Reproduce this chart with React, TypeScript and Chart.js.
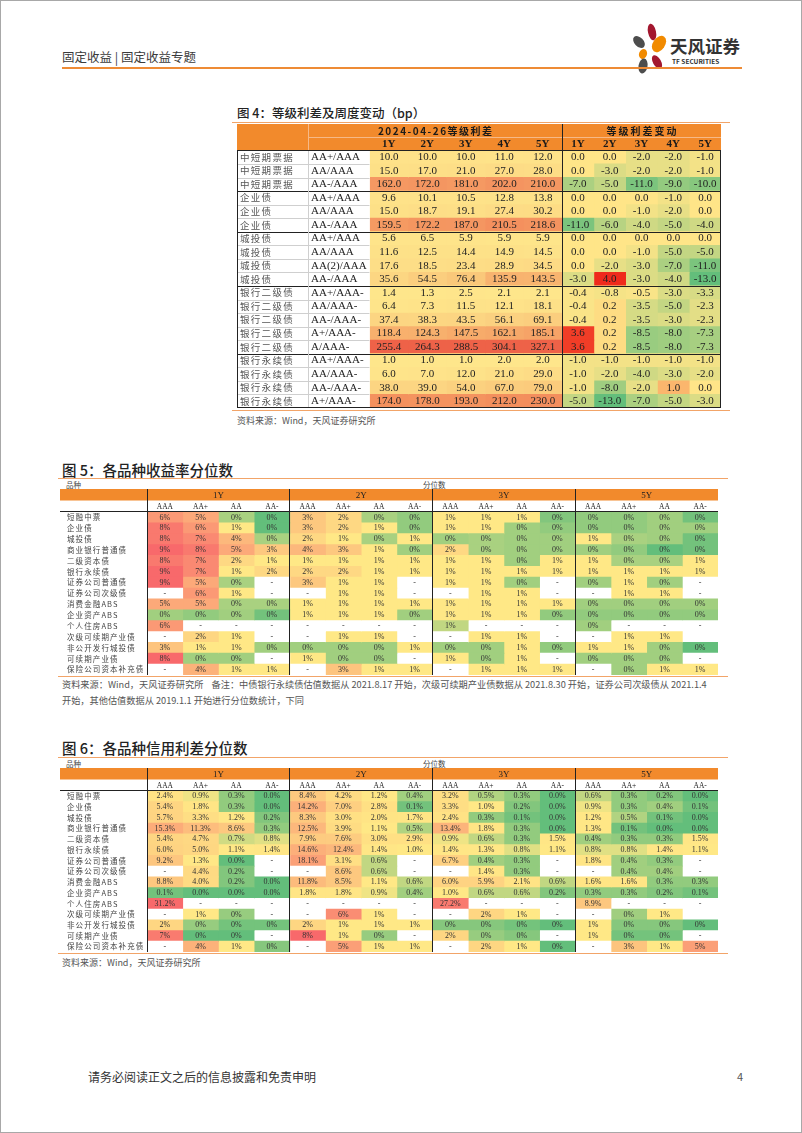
import React, { useEffect, useRef } from 'react';
import { Chart, registerables } from 'chart.js';

Chart.register(...registerables);

// ---------------- Figure 4 data ----------------
const F4_TYPES = ['中短期票据', '中短期票据', '中短期票据', '企业债', '企业债', '企业债', '城投债', '城投债', '城投债', '城投债', '银行二级债', '银行二级债', '银行二级债', '银行二级债', '银行二级债', '银行永续债', '银行永续债', '银行永续债', '银行永续债'];
const F4_RATINGS = ['AA+/AAA', 'AA/AAA', 'AA-/AAA', 'AA+/AAA', 'AA/AAA', 'AA-/AAA', 'AA+/AAA', 'AA/AAA', 'AA(2)/AAA', 'AA-/AAA', 'AA+/AAA-', 'AA/AAA-', 'AA-/AAA-', 'A+/AAA-', 'A/AAA-', 'AA+/AAA-', 'AA/AAA-', 'AA-/AAA-', 'A+/AAA-'];
const F4_TENORS = ['1Y', '2Y', '3Y', '4Y', '5Y'];
const F4_SPREAD_TITLE = '2024-04-26等级利差';
const F4_CHANGE_TITLE = '等级利差变动';
const F4_SPREAD = [
  [10.0, 10.0, 10.0, 11.0, 12.0],
  [15.0, 17.0, 21.0, 27.0, 28.0],
  [162.0, 172.0, 181.0, 202.0, 210.0],
  [9.6, 10.1, 10.5, 12.8, 13.8],
  [15.0, 18.7, 19.1, 27.4, 30.2],
  [159.5, 172.2, 187.0, 210.5, 218.6],
  [5.6, 6.5, 5.9, 5.9, 5.9],
  [11.6, 12.5, 14.4, 14.9, 14.5],
  [17.6, 18.5, 23.4, 28.9, 34.5],
  [35.6, 54.5, 76.4, 135.9, 143.5],
  [1.4, 1.3, 2.5, 2.1, 2.1],
  [6.4, 7.3, 11.5, 12.1, 18.1],
  [37.4, 38.3, 43.5, 56.1, 69.1],
  [118.4, 124.3, 147.5, 162.1, 185.1],
  [255.4, 264.3, 288.5, 304.1, 327.1],
  [1.0, 1.0, 1.0, 2.0, 2.0],
  [6.0, 7.0, 12.0, 21.0, 29.0],
  [38.0, 39.0, 54.0, 67.0, 79.0],
  [174.0, 178.0, 193.0, 212.0, 230.0],
];
const F4_CHANGE = [
  [0, 0, -2, -2, -1],
  [0, -3, -2, -2, -1],
  [-7, -5, -11, -9, -10],
  [0, 0, 0, -1, 0],
  [0, 0, -1, -2, 0],
  [-11, -6, -4, -5, -4],
  [0, 0, 0, 0, 0],
  [0, 0, -1, -5, -5],
  [0, -2, -3, -7, -11],
  [-3, 4, -3, -4, -13],
  [-0.4, -0.8, -0.5, -3.0, -3.3],
  [-0.4, 0.2, -3.5, -5.0, -2.3],
  [-0.4, 0.2, -3.5, -3.0, -2.3],
  [3.6, 0.2, -8.5, -8.0, -7.3],
  [3.6, 0.2, -8.5, -8.0, -7.3],
  [-1, -1, -1, -1, -1],
  [-1, -2, -4, -3, -2],
  [-1, -8, -2, 1, 0],
  [-5, -13, -7, -5, -3],
];

// ---------------- Figures 5 & 6 data ----------------
const PRODUCTS = ['短融中票', '企业债', '城投债', '商业银行普通债', '二级资本债', '银行永续债', '证券公司普通债', '证券公司次级债', '消费金融ABS', '企业资产ABS', '个人住房ABS', '次级可续期产业债', '非公开发行城投债', '可续期产业债', '保险公司资本补充债'];
const TENOR_GROUPS = ['1Y', '2Y', '3Y', '5Y'];
const GRADES = ['AAA', 'AA+', 'AA', 'AA-'];
const LOWER_BLOCK_START = 11; // rows from here use a separate colour block / integer format
const NA = null; // shown as "-"
const BL = undefined; // empty cell

// yield percentile (%), null = "-"
const F5_VALUES: (number | null | undefined)[][] = [
  [6, 5, 0.45, 0.0, 3, 2, 0.45, 0.3, 1, 1, 1, 0.2, 0.3, 0.3, 0.4, 0.1],
  [8, 6, 1, 0.0, 3, 2, 1, 0.3, 1, 1, 0.4, 0.3, 0.3, 0.3, 0.4, 0.4],
  [8, 7, 4, 0.45, 2, 1, 0.45, 1, 0.4, 0.45, 0.4, 0.4, 1, 0.45, 0.4, 0.1],
  [9, 8, 5, 3, 4, 3, 1, 0.4, 2, 0.45, 0.4, 0.4, 0.4, 0.3, 0.0, 0.1],
  [8, 7, 2, 1, 1, 1, 1, 1, 1, 1, 0.4, 1, 1, 0.45, 0.45, 1],
  [9, 7, 1, 2, 2, 2, 1, 1, 1, 1, 1, 1, 1, 1, 1, 1],
  [9, 5, 0.45, NA, 3, 1, 1, NA, 1, 1, 0.4, NA, 0.4, 1, 0.4, NA],
  [NA, 6, 1, NA, NA, 1, 1, NA, NA, 1, 1, NA, NA, 1, 1, NA],
  [5, 5, 0.45, 0.45, 1, 1, 1, 1, 1, 1, 1, 1, 0.4, 0.4, 0.4, 0.4],
  [0.4, 0.3, 0.4, 0.1, 1, 1, 1, 0.4, 1, 1, 1, 0.3, 0.3, 0.3, 0.3, 0.3],
  [6, NA, NA, NA, NA, NA, NA, NA, 0.6, NA, NA, NA, 0.4, NA, NA, NA],
  [NA, 2, 1, NA, NA, 1, 1, NA, NA, 1, 1, NA, NA, 1, 1, BL],
  [3, 1, 1, 0.4, 0.4, 0.4, 0.4, 1, 0.4, 0.4, 1, 0.3, 1, 1, 0.4, 0.0],
  [8, 0.4, 0.4, NA, 1, 0.4, 0.4, NA, 1, 0.4, 1, NA, 0.4, 0.4, 0.4, NA],
  [NA, 4, 1, 1, NA, 3, 1, 1, NA, 1, 1, 1, NA, 0.4, 1, 1],
];

// credit spread percentile (%), null = "-"
const F6_VALUES: (number | null | undefined)[][] = [
  [2.4, 0.9, 0.3, 0.0, 8.4, 4.2, 1.2, 0.4, 3.2, 0.5, 0.3, 0.0, 0.6, 0.3, 0.2, 0.0],
  [5.4, 1.8, 0.3, 0.0, 14.2, 7.0, 2.8, 0.1, 3.3, 1.0, 0.2, 0.0, 0.9, 0.3, 0.4, 0.1],
  [5.7, 3.3, 1.2, 0.2, 8.3, 3.0, 2.0, 1.7, 2.4, 0.3, 0.1, 0.0, 1.2, 0.5, 0.1, 0.0],
  [15.3, 11.3, 8.6, 0.3, 12.5, 3.9, 1.1, 0.5, 13.4, 1.8, 0.3, 0.0, 1.3, 0.1, 0.0, 0.0],
  [5.4, 4.7, 0.7, 0.8, 7.9, 7.6, 3.0, 2.9, 0.9, 0.6, 0.3, 1.5, 0.4, 0.3, 0.3, 1.5],
  [6.0, 5.0, 1.1, 1.4, 14.6, 12.4, 1.4, 1.0, 1.4, 1.3, 0.8, 1.1, 0.8, 0.8, 1.4, 1.1],
  [9.2, 1.3, 0.0, NA, 18.1, 3.1, 0.6, NA, 6.7, 0.4, 0.3, NA, 1.8, 0.4, 0.3, NA],
  [NA, 4.4, 0.2, NA, NA, 8.6, 0.6, NA, NA, 1.4, 0.3, NA, NA, 0.4, 0.4, NA],
  [8.8, 4.0, 0.2, 0.0, 11.8, 8.5, 1.1, 0.6, 6.0, 5.9, 2.1, 0.6, 1.6, 1.6, 0.3, 0.3],
  [0.1, 0.0, 0.0, 0.0, 1.8, 1.8, 0.9, 0.4, 1.0, 0.6, 0.6, 0.2, 0.3, 0.3, 0.2, 0.1],
  [31.2, NA, NA, NA, NA, NA, NA, NA, 27.2, NA, NA, NA, 8.9, NA, NA, NA],
  [NA, 1, 0.4, NA, NA, 6, 1, NA, NA, 2, 1, NA, NA, 0.45, 1, BL],
  [2, 0.4, 0.2, 0.2, 2, 1, 1, 1, 0.3, 0.3, 0.2, 0.1, 1, 0.3, 0.3, 0.1],
  [7, 0.1, 0.1, NA, 8, 1, 0.4, NA, 2, 0.4, 0.3, NA, 1, 0.2, 0.2, NA],
  [NA, 4, 1, 0.3, NA, 5, 1, 1, NA, 2, 1, 0.1, NA, 3, 1, 5],
];

// ---------------- helpers ----------------
const SANS = '"Noto Sans CJK SC", "Noto Sans", sans-serif';
const SERIF = '"Liberation Serif", "DejaVu Serif", serif';
const HEAD_ORANGE = '#F28A2C';
const RULE_ORANGE = '#F2A468';
const GREEN = '#63BE7B';
const YELLOW = '#FFE886';
const RED = '#F8696B';

function hexRgb(h: string) {
  return [1, 3, 5].map((i) => parseInt(h.slice(i, i + 2), 16));
}
function mix(a: string, b: string, t: number) {
  const A = hexRgb(a);
  const B = hexRgb(b);
  const k = Math.max(0, Math.min(1, isFinite(t) ? t : 1));
  return `rgb(${A.map((v, i) => Math.round(v + (B[i] - v) * k)).join(',')})`;
}
function scale3(v: number, lo: number, mid: number, hi: number, c0: string, c1: string, c2: string) {
  if (v <= mid) return mix(c0, c1, mid === lo ? 1 : (v - lo) / (mid - lo));
  return mix(c1, c2, hi === mid ? 1 : (v - mid) / (hi - mid));
}
function median(arr: number[]) {
  const s = [...arr].sort((a, b) => a - b);
  const n = s.length;
  return n % 2 ? s[(n - 1) / 2] : (s[n / 2 - 1] + s[n / 2]) / 2;
}
function blockStats(values: (number | null | undefined)[][], from: number, to: number) {
  const nums: number[] = [];
  values.slice(from, to).forEach((row) => row.forEach((v) => { if (typeof v === 'number') nums.push(v); }));
  return { lo: Math.min(...nums), mid: median(nums), hi: Math.max(...nums) };
}

type CellSpec = { text: string; bg: string; align?: 'left' | 'center'; pad?: number; font: string; color: string; spacing?: number };
type Geo = { x: (i: number) => number; y: (i: number) => number; top: number; bottom: number };
type TableSpec = {
  left: number; top: number; width: number; height: number; headerH: number;
  colWidths: number[]; rows: number;
  cell: (r: number, c: number) => CellSpec;
  decorate: (ctx: CanvasRenderingContext2D, g: Geo) => void;
};

function hline(ctx: CanvasRenderingContext2D, x1: number, x2: number, y: number, color: string, w = 1) {
  ctx.save();
  ctx.strokeStyle = color;
  ctx.lineWidth = w;
  const yy = Math.round(y) + (w % 2 ? 0.5 : 0);
  ctx.beginPath();
  ctx.moveTo(x1, yy);
  ctx.lineTo(x2, yy);
  ctx.stroke();
  ctx.restore();
}
function vline(ctx: CanvasRenderingContext2D, x: number, y1: number, y2: number, color: string, w = 1) {
  ctx.save();
  ctx.strokeStyle = color;
  ctx.lineWidth = w;
  const xx = Math.round(x) + (w % 2 ? 0.5 : 0);
  ctx.beginPath();
  ctx.moveTo(xx, y1);
  ctx.lineTo(xx, y2);
  ctx.stroke();
  ctx.restore();
}
function ctext(ctx: CanvasRenderingContext2D, s: string, x: number, y: number, font: string, color: string, align: CanvasTextAlign = 'center', spacing = 0) {
  ctx.save();
  ctx.font = font;
  ctx.fillStyle = color;
  ctx.textBaseline = 'middle';
  ctx.textAlign = align;
  (ctx as any).letterSpacing = `${spacing}px`;
  ctx.fillText(s, align === 'center' ? x + spacing / 2 : x, y);
  ctx.restore();
}

function HeatTable({ spec }: { spec: TableSpec }) {
  const ref = useRef<HTMLCanvasElement>(null);
  useEffect(() => {
    const canvas = ref.current;
    if (!canvas) return;
    const edges = [0];
    spec.colWidths.forEach((w) => edges.push(edges[edges.length - 1] + w));
    const labels = Array.from({ length: spec.rows }, (_, r) => `row${r}`);
    const datasets = spec.colWidths.map((_, c) => ({
      label: `col${c}`,
      data: labels.map(() => [edges[c], edges[c + 1]]),
      backgroundColor: labels.map((_, r) => spec.cell(r, c).bg),
      borderWidth: 0,
      borderSkipped: false,
      inflateAmount: 0.4,
      barPercentage: 1,
      categoryPercentage: 1,
      grouped: false,
    }));
    const geo = (chart: any): Geo => {
      const xs = chart.scales.x;
      const ys = chart.scales.y;
      const band = ys.getPixelForValue(1) - ys.getPixelForValue(0);
      return {
        x: (i: number) => xs.getPixelForValue(edges[i]),
        y: (i: number) => ys.getPixelForValue(i) - band / 2,
        top: chart.chartArea.top,
        bottom: chart.chartArea.bottom,
      };
    };
    const deco = {
      id: 'tableDeco',
      afterDatasetsDraw(chart: any) {
        const ctx = chart.ctx as CanvasRenderingContext2D;
        chart.data.datasets.forEach((_: any, c: number) => {
          const meta = chart.getDatasetMeta(c);
          meta.data.forEach((el: any, r: number) => {
            const cell = spec.cell(r, c);
            if (!cell.text) return;
            const p = el.getProps(['x', 'y', 'base'], true);
            const l = Math.min(p.x, p.base);
            const rt = Math.max(p.x, p.base);
            if (cell.align === 'left') ctext(ctx, cell.text, l + (cell.pad || 0), p.y, cell.font, cell.color, 'left', cell.spacing || 0);
            else ctext(ctx, cell.text, (l + rt) / 2, p.y, cell.font, cell.color, 'center', cell.spacing || 0);
          });
        });
      },
      afterDraw(chart: any) {
        spec.decorate(chart.ctx, geo(chart));
      },
    };
    const chart = new Chart(canvas, {
      type: 'bar',
      data: { labels, datasets: datasets as any },
      options: {
        indexAxis: 'y',
        responsive: false,
        animation: false,
        devicePixelRatio: 1,
        events: [],
        layout: { padding: { top: spec.headerH, left: 0, right: 0, bottom: 0 } },
        scales: {
          x: { type: 'linear', min: 0, max: edges[edges.length - 1], display: false },
          y: { type: 'category', display: false, offset: true },
        },
        plugins: { legend: { display: false }, tooltip: { enabled: false } },
      } as any,
      plugins: [deco],
    });
    let alive = true;
    (document as any).fonts?.ready?.then(() => { if (alive) chart.draw(); });
    return () => { alive = false; chart.destroy(); };
  }, [spec]);
  return (
    <canvas
      ref={ref}
      width={spec.width}
      height={spec.height}
      style={{ position: 'absolute', left: spec.left, top: spec.top, width: spec.width, height: spec.height }}
    />
  );
}

// ---------------- Figure 4 spec ----------------
const f4SpreadStats = F4_TENORS.map((_, k) => {
  const col = F4_SPREAD.map((r) => r[k]);
  return { lo: Math.min(...col), hi: Math.max(...col) };
});
const f4ChangeAll = F4_CHANGE.flat();
const f4ChangeLo = Math.min(...f4ChangeAll);
const f4ChangeHi = Math.max(...f4ChangeAll);

const fig4Spec: TableSpec = {
  left: 237, top: 124, width: 484, height: 284, headerH: 26.4,
  colWidths: [71, 61.5, 38.5, 38.5, 38.5, 38.5, 38.5, 31.8, 31.8, 31.8, 31.8, 31.8],
  rows: F4_TYPES.length,
  cell: (r, c) => {
    if (c === 0) return { text: F4_TYPES[r], bg: '#ffffff', align: 'left', pad: 3, font: `9.5px ${SANS}`, color: '#555', spacing: 1.3 };
    if (c === 1) return { text: F4_RATINGS[r], bg: '#ffffff', align: 'left', pad: 3, font: `11px ${SERIF}`, color: '#222' };
    if (c <= 6) {
      const k = c - 2;
      const v = F4_SPREAD[r][k];
      const s = f4SpreadStats[k];
      return { text: v.toFixed(1), bg: scale3(v, s.lo, (s.lo + s.hi) / 2, s.hi, '#FEE68B', '#F7AC6B', '#EE6248'), font: `11px ${SERIF}`, color: '#222' };
    }
    const v = F4_CHANGE[r][c - 7];
    return { text: v.toFixed(1), bg: scale3(v, f4ChangeLo, 0, f4ChangeHi, GREEN, '#FFE588', '#EF2A1C'), font: `11px ${SERIF}`, color: '#222' };
  },
  decorate: (ctx, g) => {
    const r1 = g.top / 2;
    ctx.save();
    ctx.fillStyle = HEAD_ORANGE;
    ctx.fillRect(g.x(0), 0, g.x(12) - g.x(0), g.top);
    ctx.restore();
    hline(ctx, g.x(1), g.x(12), r1, '#F6B987');
    vline(ctx, g.x(1), 0, g.top, '#F6B987');
    ctext(ctx, F4_SPREAD_TITLE, (g.x(1) + g.x(7)) / 2, r1 / 2 + 0.5, `bold 10px ${SANS}`, '#1a1a1a', 'center', 1.5);
    ctext(ctx, F4_CHANGE_TITLE, (g.x(7) + g.x(12)) / 2, r1 / 2 + 0.5, `bold 10px ${SANS}`, '#1a1a1a', 'center', 2);
    F4_TENORS.forEach((t, k) => {
      ctext(ctx, t, (g.x(2 + k) + g.x(3 + k)) / 2, (r1 + g.top) / 2 + 0.5, `bold 11px ${SERIF}`, '#1a1a1a');
      ctext(ctx, t, (g.x(7 + k) + g.x(8 + k)) / 2, (r1 + g.top) / 2 + 0.5, `bold 11px ${SERIF}`, '#1a1a1a');
    });
    const n = F4_TYPES.length;
    for (let r = 1; r < n; r++) {
      if (F4_TYPES[r] !== F4_TYPES[r - 1]) hline(ctx, g.x(0), g.x(12), g.y(r), '#222');
      else hline(ctx, g.x(0), g.x(2), g.y(r), '#cfcfcf');
    }
    vline(ctx, g.x(1), g.top, g.bottom, '#cfcfcf');
    hline(ctx, g.x(0), g.x(12), g.top, '#222');
    hline(ctx, g.x(0), g.x(12), g.bottom - 1, '#222');
    vline(ctx, g.x(0), g.top, g.bottom, '#222');
    vline(ctx, g.x(12) - 1, g.top, g.bottom, '#222');
    vline(ctx, g.x(7), 0, g.bottom, '#222');
  },
};

// ---------------- Figures 5 / 6 spec builder ----------------
function percentileSpec(values: (number | null | undefined)[][], top: number, height: number, upperDecimals: number): TableSpec {
  const upper = blockStats(values, 0, LOWER_BLOCK_START);
  const lower = blockStats(values, LOWER_BLOCK_START, values.length);
  return {
    left: 60, top, width: 658, height, headerH: 23,
    colWidths: [87, ...Array.from({ length: 16 }, () => 571 / 16)],
    rows: PRODUCTS.length,
    cell: (r, c) => {
      if (c === 0) return { text: PRODUCTS[r], bg: '#ffffff', align: 'left', pad: 7, font: `7.5px ${SANS}`, color: '#444', spacing: 1.1 };
      const v = values[r][c - 1];
      if (v === null) return { text: '-', bg: '#ffffff', font: `8px ${SERIF}`, color: '#333' };
      if (v === undefined) return { text: '', bg: '#ffffff', font: `8px ${SERIF}`, color: '#333' };
      const st = r < LOWER_BLOCK_START ? upper : lower;
      const dec = r < LOWER_BLOCK_START ? upperDecimals : 0;
      return { text: `${v.toFixed(dec)}%`, bg: scale3(v, st.lo, st.mid, st.hi, GREEN, YELLOW, RED), font: `8px ${SERIF}`, color: '#333' };
    },
    decorate: (ctx, g) => {
      const r1 = g.top / 2;
      ctx.save();
      ctx.fillStyle = HEAD_ORANGE;
      ctx.fillRect(g.x(0), 0, g.x(17) - g.x(0), r1);
      ctx.restore();
      TENOR_GROUPS.forEach((t, k) => {
        ctext(ctx, t, (g.x(1 + 4 * k) + g.x(5 + 4 * k)) / 2, r1 / 2 + 0.5, `9px ${SERIF}`, '#222');
        GRADES.forEach((gr, j) => {
          const c = 1 + 4 * k + j;
          ctext(ctx, gr, (g.x(c) + g.x(c + 1)) / 2, (r1 + g.top) / 2 + 0.5, `7.5px ${SERIF}`, '#222');
        });
      });
      hline(ctx, g.x(0), g.x(17), g.top - 1, '#222');
      [1, 5, 9, 13].forEach((i) => vline(ctx, g.x(i) - 0.5, 0, g.bottom, '#222'));
    },
  };
}

const fig5Spec = percentileSpec(F5_VALUES, 489, 186, 0);
const fig6Spec = percentileSpec(F6_VALUES, 768, 184, 1);

// ---------------- page ----------------
function Txt(props: { x: number; y: number; size: number; color?: string; weight?: number; family?: string; children: React.ReactNode }) {
  const lh = Math.round(props.size * 1.4);
  return (
    <div
      style={{
        position: 'absolute', left: props.x, top: props.y - lh / 2, fontSize: props.size, lineHeight: `${lh}px`,
        color: props.color || '#333', fontWeight: props.weight || 400, fontFamily: props.family || SANS, whiteSpace: 'nowrap',
      }}
    >
      {props.children}
    </div>
  );
}
function Rule({ x1, x2, y, color = RULE_ORANGE, h = 1 }: { x1: number; x2: number; y: number; color?: string; h?: number }) {
  return <div style={{ position: 'absolute', left: x1, top: y, width: x2 - x1, height: h, background: color }} />;
}

function Logo() {
  return (
    <svg width={60} height={56} viewBox="0 0 60 56" style={{ position: 'absolute', left: 624, top: 20 }}>
      <ellipse cx={28} cy={12} rx={4} ry={8.5} transform="rotate(-12 28 12)" fill="#A3172F" />
      <ellipse cx={35} cy={24} rx={6} ry={9} transform="rotate(35 35 24)" fill="#F18A00" />
      <ellipse cx={15} cy={22} rx={4.5} ry={7} transform="rotate(-45 15 22)" fill="#4D4D4D" />
      <ellipse cx={19} cy={34} rx={4} ry={5} transform="rotate(20 19 34)" fill="#F18A00" />
      <ellipse cx={19} cy={46} rx={4.5} ry={7.5} transform="rotate(10 19 46)" fill="#4D4D4D" />
      <ellipse cx={33} cy={42} rx={4} ry={7.5} transform="rotate(-30 33 42)" fill="#A3172F" />
    </svg>
  );
}

export default function App() {
  return (
    <div style={{ position: 'absolute', left: 0, top: 0, width: 802, height: 1133, background: '#fff', overflow: 'hidden', fontFamily: SANS }}>
      {/* page header */}
      <Txt x={62} y={57} size={12.5} color="#3a3a3a">固定收益 | 固定收益专题</Txt>
      <Logo />
      <Txt x={670} y={45} size={17.5} color="#333" weight={700}>天风证券</Txt>
      <Txt x={672} y={61} size={6.5} color="#333" weight={700}>TF SECURITIES</Txt>
      <Rule x1={62} x2={742} y={67} color="#EE8B35" h={1.5} />

      {/* Figure 4 */}
      <Txt x={237} y={113} size={12.5} color="#222" weight={500}>图 4：等级利差及周度变动（bp）</Txt>
      <Rule x1={232} x2={730} y={122} />
      <HeatTable spec={fig4Spec} />
      <Rule x1={232} x2={730} y={410} />
      <Txt x={237} y={420} size={9} color="#555">资料来源：Wind，天风证券研究所</Txt>

      {/* Figure 5 */}
      <Txt x={62} y={470} size={14.5} color="#222" weight={500}>图 5：各品种收益率分位数</Txt>
      <Rule x1={58} x2={728} y={478} />
      <Txt x={66} y={484} size={7.5} color="#444">品种</Txt>
      <Txt x={423} y={484} size={7.5} color="#444">分位数</Txt>
      <HeatTable spec={fig5Spec} />
      <Rule x1={58} x2={728} y={675.5} />
      <Txt x={62} y={684} size={9.2} color="#555">资料来源：Wind，天风证券研究所&nbsp;&nbsp;&nbsp;&nbsp;备注：中债银行永续债估值数据从 2021.8.17 开始，次级可续期产业债数据从 2021.8.30 开始，证券公司次级债从 2021.1.4</Txt>
      <Txt x={62} y={700} size={9.2} color="#555">开始，其他估值数据从 2019.1.1 开始进行分位数统计，下同</Txt>

      {/* Figure 6 */}
      <Txt x={62} y={748} size={14.5} color="#222" weight={500}>图 6：各品种信用利差分位数</Txt>
      <Rule x1={58} x2={728} y={757} />
      <Txt x={66} y={763} size={7.5} color="#444">品种</Txt>
      <Txt x={423} y={763} size={7.5} color="#444">分位数</Txt>
      <HeatTable spec={fig6Spec} />
      <Rule x1={58} x2={728} y={953} />
      <Txt x={62} y={962} size={9} color="#555">资料来源：Wind，天风证券研究所</Txt>

      {/* footer */}
      <Txt x={88} y={1076} size={12} color="#333">请务必阅读正文之后的信息披露和免责申明</Txt>
      <Txt x={737} y={1076} size={11} color="#555">4</Txt>

      <div style={{ position: 'absolute', left: 0, top: 0, width: 802, height: 1133, boxSizing: 'border-box', border: '1px solid #a8a8a8', pointerEvents: 'none' }} />
    </div>
  );
}
